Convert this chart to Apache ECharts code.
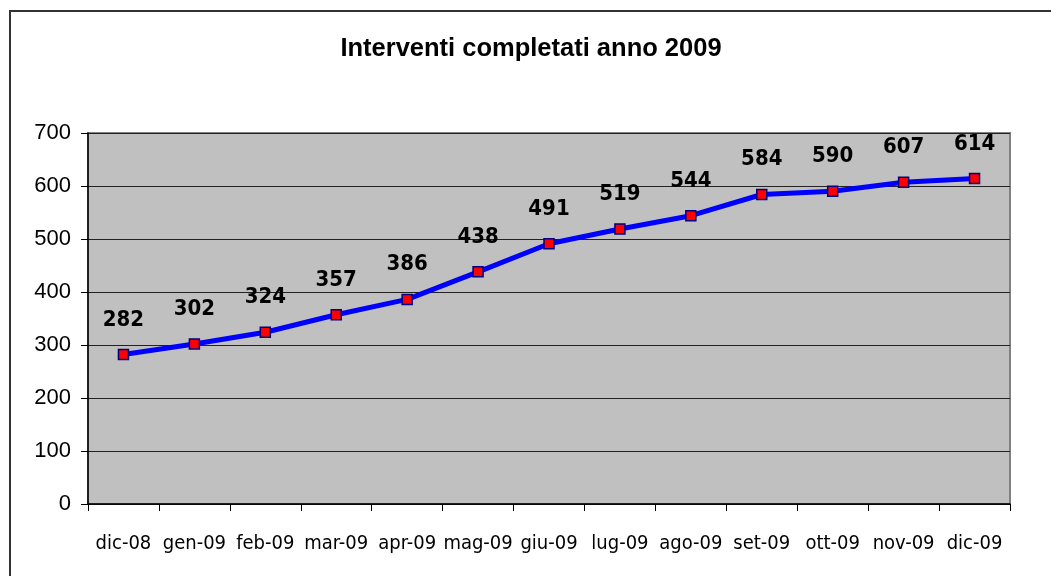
<!DOCTYPE html>
<html>
<head>
<meta charset="utf-8">
<script src="https://cdn.jsdelivr.net/npm/echarts@6/dist/echarts.min.js"></script>
<style>
  html, body { margin: 0; padding: 0; background: #fff; }
  #chart { width: 1051px; height: 576px; }
</style>
</head>
<body>
<div id="chart"></div>
<script>
const months = ['dic-08', 'gen-09', 'feb-09', 'mar-09', 'apr-09', 'mag-09', 'giu-09',
  'lug-09', 'ago-09', 'set-09', 'ott-09', 'nov-09', 'dic-09']
const interventi = [282, 302, 324, 357, 386, 438, 491, 519, 544, 584, 590, 607, 614]
const yTicks = [0, 100, 200, 300, 400, 500, 600, 700]

const narrow = '"Liberation Sans Narrow", "DejaVu Sans Condensed", "Arial Narrow", "Liberation Sans", Arial, sans-serif'

const chart = echarts.init(document.getElementById('chart'))

chart.setOption({
  backgroundColor: '#ffffff',
  animation: false,
  graphic: [{
    type: 'rect',
    shape: { x: 10, y: 11, width: 1100, height: 700 },
    style: { fill: 'none', stroke: '#333', lineWidth: 2 },
    silent: true
  }],
  title: {
    text: 'Interventi completati anno 2009',
    left: 526,
    top: 31,
    textAlign: 'center',
    textStyle: {
      fontFamily: 'Liberation Sans, Arial, sans-serif',
      fontSize: 25.5,
      fontWeight: 'bold',
      color: '#000'
    }
  },
  grid: {
    left: 88,
    right: 41,
    top: 133,
    bottom: 72,
    show: true,
    backgroundColor: '#c0c0c0',
    borderColor: '#808080',
    borderWidth: 2
  },
  xAxis: {
    type: 'category',
    data: months,
    boundaryGap: true,
    axisLine: { lineStyle: { color: '#000', width: 1.5 } },
    axisTick: { show: true, length: 7, lineStyle: { color: '#000' } },
    axisLabel: {
      interval: 0,
      margin: 30,
      fontFamily: narrow,
      fontSize: 20,
      color: '#000'
    },
    splitLine: { show: false }
  },
  yAxis: {
    type: 'value',
    min: yTicks[0],
    max: yTicks[yTicks.length - 1],
    interval: 100,
    axisLine: { show: true, lineStyle: { color: '#000', width: 1.5 } },
    axisTick: { show: true, length: 7, lineStyle: { color: '#000' } },
    axisLabel: {
      margin: 17,
      fontFamily: 'Liberation Sans, Arial, sans-serif',
      fontSize: 22,
      color: '#000'
    },
    splitLine: { show: true, lineStyle: { color: '#222', width: 1 } }
  },
  series: [{
    type: 'line',
    data: interventi,
    symbol: 'rect',
    symbolSize: 10,
    lineStyle: { color: '#0000ff', width: 5 },
    itemStyle: { color: '#ff0000', borderColor: '#000080', borderWidth: 1.5 },
    label: {
      show: true,
      position: 'top',
      distance: 18,
      fontFamily: narrow,
      fontSize: 22,
      fontWeight: 'bold',
      color: '#000'
    },
    z: 3
  }]
})
</script>
</body>
</html>
